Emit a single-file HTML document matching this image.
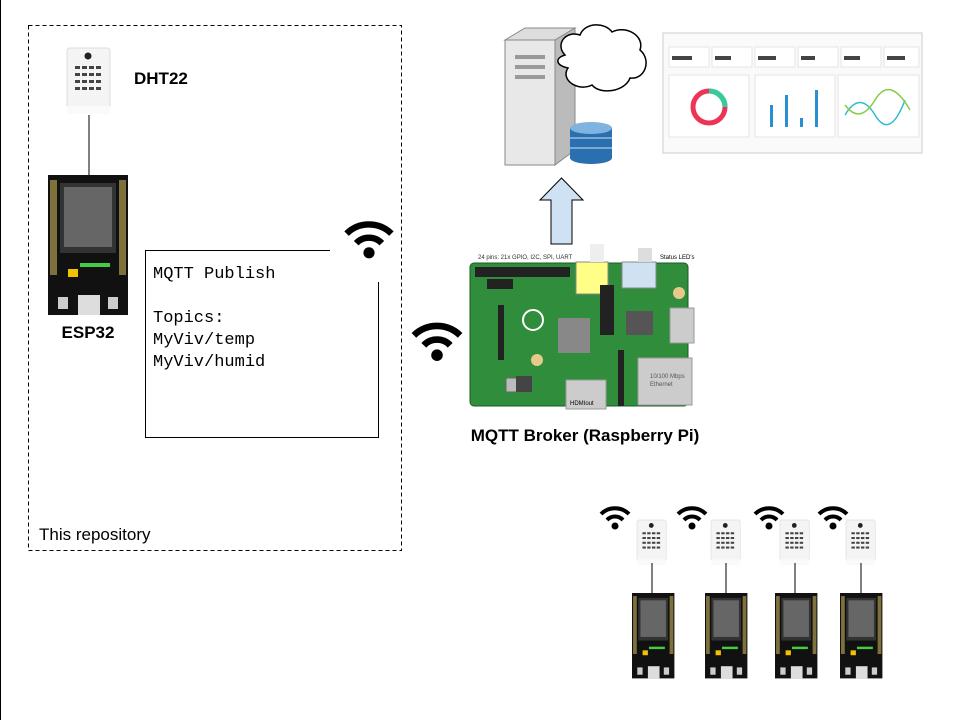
<!DOCTYPE html>
<html><head><style>
body{margin:0;width:960px;height:720px;overflow:hidden;background:#fff;font-family:"Liberation Sans",sans-serif}
</style></head><body>
<svg width="960" height="720" viewBox="0 0 960 720" xmlns="http://www.w3.org/2000/svg">
<defs>
<g id="wifi">
<path d="M-14,-4 A20,20 0 0 1 14,-4" fill="none" stroke="#000" stroke-width="4"/>
<path d="M-8,2 A11,11 0 0 1 8,2" fill="none" stroke="#000" stroke-width="4"/>
<circle cx="0" cy="8" r="3.5" fill="#000"/>
</g>
<g id="dht">
<rect x="0" y="0" width="43" height="60" rx="3" fill="#f4f4f4" stroke="#ddd"/>
<circle cx="21" cy="8" r="3.5" fill="#222"/>
<g fill="#444">
<rect x="8" y="18" width="5" height="3"/><rect x="15" y="18" width="5" height="3"/><rect x="22" y="18" width="5" height="3"/><rect x="29" y="18" width="5" height="3"/>
<rect x="8" y="25" width="5" height="3"/><rect x="15" y="25" width="5" height="3"/><rect x="22" y="25" width="5" height="3"/><rect x="29" y="25" width="5" height="3"/>
<rect x="8" y="32" width="5" height="3"/><rect x="15" y="32" width="5" height="3"/><rect x="22" y="32" width="5" height="3"/><rect x="29" y="32" width="5" height="3"/>
<rect x="8" y="39" width="5" height="3"/><rect x="15" y="39" width="5" height="3"/><rect x="22" y="39" width="5" height="3"/><rect x="29" y="39" width="5" height="3"/>
</g>
<rect x="0" y="58" width="43" height="8" fill="#fafafa"/>
</g>
<g id="esp">
<rect x="0" y="0" width="80" height="140" fill="#111"/>
<rect x="12" y="8" width="56" height="70" fill="#333"/>
<rect x="16" y="12" width="48" height="60" fill="#666"/>
<rect x="2" y="5" width="7" height="95" fill="#c8b35a" opacity=".6"/>
<rect x="71" y="5" width="7" height="95" fill="#c8b35a" opacity=".6"/>
<rect x="20" y="94" width="10" height="8" fill="#f2c200"/>
<rect x="32" y="88" width="30" height="4" fill="#4c4"/>
<rect x="30" y="120" width="22" height="20" fill="#ddd"/>
<rect x="10" y="122" width="10" height="12" fill="#ccc"/>
<rect x="60" y="122" width="10" height="12" fill="#ccc"/>
</g>
</defs>
<line x1="0.5" y1="0" x2="0.5" y2="720" stroke="#000"/>
<rect x="28.5" y="25.5" width="373" height="525" fill="none" stroke="#000" stroke-dasharray="4,3"/>
<text x="39" y="540" font-size="17">This repository</text>
<use href="#dht" x="67" y="48"/>
<line x1="89" y1="115" x2="89" y2="176" stroke="#000"/>
<text x="134" y="84" font-size="17" font-weight="bold">DHT22</text>
<use href="#esp" x="48" y="175"/>
<text x="88" y="338" font-size="17" font-weight="bold" text-anchor="middle">ESP32</text>
<polyline points="330,250.5 145.5,250.5 145.5,437.5 378.5,437.5 378.5,282" fill="none" stroke="#000"/>
<use href="#wifi" transform="translate(369,240) scale(1.6)"/>
<g font-family="Liberation Mono,monospace" font-size="17">
<text x="153" y="278">MQTT Publish</text>
<text x="153" y="322">Topics:</text>
<text x="153" y="344">MyViv/temp</text>
<text x="153" y="366">MyViv/humid</text>
</g>
<use href="#wifi" transform="translate(437,342) scale(1.65)"/>
<!-- server -->
<path d="M505,40 L525,28 L575,28 L555,40 Z" fill="#ddd" stroke="#888"/>
<rect x="505" y="40" width="50" height="125" fill="#e8e8e8" stroke="#888"/>
<path d="M555,40 L575,28 L575,150 L555,165 Z" fill="#bbb" stroke="#888"/>
<rect x="515" y="55" width="30" height="4" fill="#999"/><rect x="515" y="65" width="30" height="4" fill="#999"/><rect x="515" y="75" width="30" height="4" fill="#999"/>
<path d="M565,55 C555,45 565,30 580,35 C585,22 605,22 612,32 C625,25 645,35 640,50 C652,60 645,80 630,78 C625,92 600,95 592,85 C578,92 560,80 568,68 C555,65 555,58 565,55 Z" fill="#fff" stroke="#000" stroke-width="1.5"/>
<rect x="570" y="128" width="42" height="30" fill="#2a6fb0"/>
<ellipse cx="591" cy="158" rx="21" ry="6" fill="#2a6fb0"/>
<ellipse cx="591" cy="128" rx="21" ry="6" fill="#7fb3e0"/>
<line x1="570" y1="138" x2="612" y2="138" stroke="#cfe3f5"/><line x1="570" y1="148" x2="612" y2="148" stroke="#cfe3f5"/>
<!-- dashboard -->
<rect x="663" y="33" width="259" height="120" fill="#fafafa" stroke="#ccc"/>
<g fill="#fff" stroke="#e4e4e4"><rect x="669" y="47" width="40" height="20"/><rect x="712" y="47" width="40" height="20"/><rect x="755" y="47" width="40" height="20"/><rect x="798" y="47" width="40" height="20"/><rect x="841" y="47" width="40" height="20"/><rect x="884" y="47" width="35" height="20"/>
<rect x="669" y="75" width="80" height="62"/><rect x="755" y="75" width="80" height="62"/><rect x="838" y="75" width="81" height="62"/></g>
<g fill="#444"><rect x="672" y="56" width="20" height="4"/><rect x="715" y="56" width="16" height="4"/><rect x="758" y="56" width="18" height="4"/><rect x="801" y="56" width="14" height="4"/><rect x="844" y="56" width="16" height="4"/><rect x="887" y="56" width="18" height="4"/></g>
<circle cx="709" cy="107" r="16" fill="none" stroke="#e35" stroke-width="5"/>
<path d="M709,91 A16,16 0 0 1 725,107" fill="none" stroke="#3c9" stroke-width="5"/>
<g fill="#2a8fd0"><rect x="770" y="105" width="3" height="22"/><rect x="785" y="95" width="3" height="32"/><rect x="800" y="118" width="3" height="9"/><rect x="815" y="90" width="3" height="37"/></g>
<path d="M845,115 Q860,90 875,115 T905,100" fill="none" stroke="#3bc" stroke-width="1.5"/>
<path d="M845,105 Q860,125 875,100 T910,110" fill="none" stroke="#8c4" stroke-width="1.5"/>
<!-- arrow -->
<path d="M551,244 L551,200 L540,200 L561.5,178 L583,200 L572,200 L572,244 Z" fill="#cfe2f3" stroke="#000"/>
<!-- Pi -->
<text x="478" y="259" font-size="6" fill="#333">24 pins: 21x GPIO, I2C, SPI, UART</text>
<rect x="470" y="263" width="218" height="143" rx="4" fill="#2f8d3c" stroke="#1d5a26"/>
<rect x="475" y="267" width="95" height="10" fill="#222"/>
<rect x="487" y="279" width="26" height="10" fill="#222"/>
<rect x="576" y="262" width="32" height="32" fill="#ffff88" stroke="#888"/>
<rect x="622" y="262" width="34" height="26" fill="#cfe2f3" stroke="#888"/>
<rect x="638" y="248" width="14" height="14" fill="#ddd"/>
<rect x="590" y="244" width="14" height="18" fill="#eee"/>
<text x="660" y="259" font-size="6">Status LED's</text>
<rect x="670" y="308" width="24" height="35" fill="#ccc" stroke="#999"/>
<rect x="638" y="358" width="54" height="47" fill="#ccc" stroke="#999"/>
<text x="650" y="378" font-size="6" fill="#555">10/100 Mbps</text>
<text x="650" y="386" font-size="6" fill="#555">Ethernet</text>
<rect x="566" y="380" width="40" height="29" fill="#ccc" stroke="#999"/>
<text x="570" y="405" font-size="6">HDMIout</text>
<rect x="558" y="318" width="32" height="35" fill="#888"/>
<rect x="626" y="311" width="27" height="24" fill="#555"/>
<rect x="600" y="285" width="14" height="50" fill="#222"/>
<rect x="498" y="305" width="6" height="55" fill="#222"/>
<rect x="618" y="350" width="6" height="56" fill="#222"/>
<circle cx="537" cy="360" r="6" fill="#e8c98a"/><circle cx="679" cy="293" r="6" fill="#e8c98a"/>
<circle cx="533" cy="320" r="10" fill="none" stroke="#fff" stroke-width="2"/>
<rect x="506" y="378" width="14" height="14" fill="#bbb" stroke="#666"/>
<rect x="516" y="376" width="16" height="16" fill="#444"/>
<text x="585" y="441" font-size="17" font-weight="bold" text-anchor="middle">MQTT Broker (Raspberry Pi)</text>
<!-- sensor fleet -->
<g>
<use href="#wifi" transform="translate(615,518)"/>
<use href="#wifi" transform="translate(692,518)"/>
<use href="#wifi" transform="translate(769,518)"/>
<use href="#wifi" transform="translate(833,518)"/>
<use href="#dht" transform="translate(637,520) scale(.68)"/>
<use href="#dht" transform="translate(711,520) scale(.68)"/>
<use href="#dht" transform="translate(780,520) scale(.68)"/>
<use href="#dht" transform="translate(846,520) scale(.68)"/>
<line x1="652" y1="563" x2="652" y2="593" stroke="#000"/>
<line x1="726" y1="563" x2="726" y2="593" stroke="#000"/>
<line x1="795" y1="563" x2="795" y2="593" stroke="#000"/>
<line x1="861" y1="563" x2="861" y2="593" stroke="#000"/>
<use href="#esp" transform="translate(632,593) scale(.53,.61)"/>
<use href="#esp" transform="translate(705,593) scale(.53,.61)"/>
<use href="#esp" transform="translate(775,593) scale(.53,.61)"/>
<use href="#esp" transform="translate(840,593) scale(.53,.61)"/>
</g>
</svg>
</body></html>
